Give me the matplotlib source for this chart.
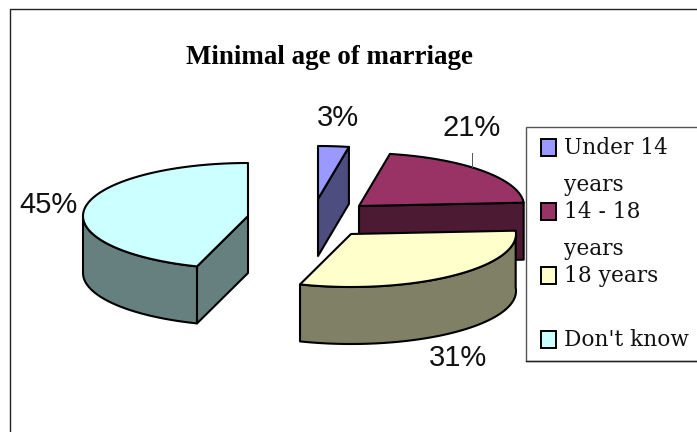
import numpy as np
import matplotlib
matplotlib.use("Agg")
import matplotlib.pyplot as plt
from matplotlib.patches import Polygon, Rectangle

title = "Minimal age of marriage"
categories = ["Under 14 years", "14 - 18 years", "18 years", "Don't know"]
shares = [3, 21, 31, 45]
value_labels = ["3%", "21%", "31%", "45%"]

top_colors = ["#9999FF", "#993366", "#FFFFCC", "#CCFFFF"]
side_colors = ["#4D4D80", "#4D1A33", "#808066", "#668080"]

# layout in pixels
W, H = 697, 432
RX, RY, DEPTH = 165, 53, 57
apexes = [(318, 199), (359, 206), (351, 234), (248, 216)]
label_pos = [(338, 118), (472, 128), (458, 358), (48, 205)]
legend_rows = [(148, ["Under 14", "years"]), (212, ["14 - 18", "years"]),
               (276, ["18 years"]), (340, ["Don't know"])]
LEG_STEP = 37

fig = plt.figure(figsize=(W / 100, H / 100), dpi=100, facecolor="white")
ax = fig.add_axes([0, 0, 1, 1])
ax.set_xlim(0, W)
ax.set_ylim(H, 0)
ax.axis("off")

LW = 1.5
EDGE = "black"


def rim(apex, a0, a1, dy=0):
    th = np.radians(np.linspace(a0, a1, max(int(abs(a1 - a0)), 2) + 1))
    return np.column_stack([apex[0] + RX * np.sin(th), apex[1] + dy - RY * np.cos(th)])


def poly(pts, color, z):
    ax.add_patch(Polygon(pts, closed=True, facecolor=color, edgecolor=EDGE,
                         linewidth=LW, joinstyle="round", zorder=z))


edges = np.concatenate([[0], np.cumsum(shares)]) / np.sum(shares) * 360
draw_order = [3, 0, 1, 2]
for z, i in enumerate(draw_order):
    a0, a1 = edges[i], edges[i + 1]
    apex = np.array(apexes[i], float)
    base = z * 10 + 1

    # outer wall, only the part that faces the viewer
    w0, w1 = max(a0, 90), min(a1, 270)
    if w1 > w0:
        if i == 2:
            w0 = a0
        top = rim(apex, w0, w1)
        bottom = rim(apex, w0, w1, DEPTH)
        poly(np.vstack([top, bottom[::-1]]), side_colors[i], base)

    # cut faces that can be seen
    if i == 3:
        p = rim(apex, a0, a0)[0]
        poly([apex, p, p + [0, DEPTH], apex + [0, DEPTH]], side_colors[i], base)
    if i in (0, 1):
        p = rim(apex, a1, a1)[0]
        poly([apex, p, p + [0, DEPTH], apex + [0, DEPTH]], side_colors[i], base)

    # top face
    poly(np.vstack([[apex], rim(apex, a0, a1)]), top_colors[i], base + 1)

# chart frame, cut by the right and bottom edges of the image
ax.plot([10, 10, W + 5], [H + 5, 8.5, 8.5], color="#222222", lw=1.0,
        clip_on=False, zorder=50)

# title
ax.text(330, 58, title, family="Liberation Serif", weight="bold", fontsize=19.4,
        ha="center", va="center", zorder=60)

# value labels
for (x, y), s in zip(label_pos, value_labels):
    ax.text(x, y, s, family="Liberation Sans", fontsize=21, ha="center",
            va="center", color="#111111", zorder=60)

# leader line of the 21% label
ax.plot([471.5, 471.5], [153, 167], color="#555555", lw=0.7, zorder=45)

# legend
ax.add_patch(Rectangle((526, 127), W + 10 - 526, 234, facecolor="white",
                       edgecolor="#555555", linewidth=1.0, zorder=40))
ax.plot([526, W], [361, 361], color="#222222", lw=1.0, zorder=41)
for (y, lines), color in zip(legend_rows, top_colors):
    ax.add_patch(Rectangle((541, y - 9), 15, 17, facecolor=color,
                           edgecolor="black", linewidth=1.4, zorder=42))
    for k, line in enumerate(lines):
        ax.text(564.5, y + k * LEG_STEP, line, family="DejaVu Serif", fontsize=15.6,
                ha="left", va="center", color="#111111", zorder=60)

fig.savefig("out.png", dpi=100, facecolor="white")
